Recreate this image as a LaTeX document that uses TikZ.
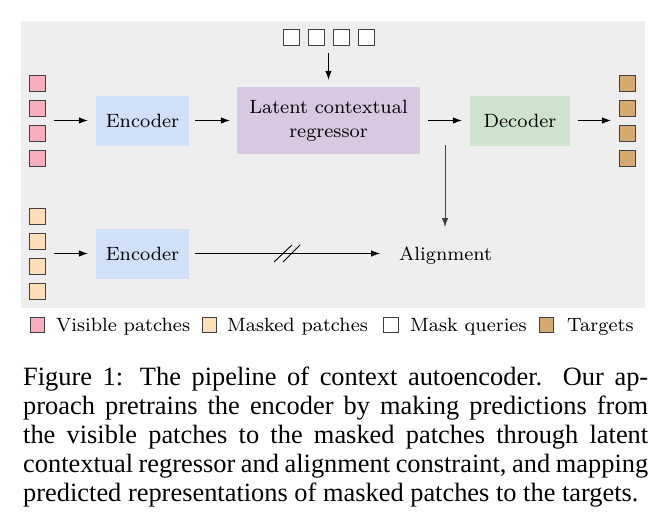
\documentclass[tikz,border=0pt]{standalone}
\usepackage{fontspec}
\newfontfamily\capfont{Liberation Serif}
\newfontfamily\dgmfont{lmroman8-regular}[Extension=.otf]
\usetikzlibrary{arrows.meta,fit}
\definecolor{bggray}{RGB}{238,238,238}
\definecolor{vispink}{RGB}{250,173,190}
\definecolor{maskpeach}{RGB}{253,222,184}
\definecolor{targettan}{RGB}{214,169,112}
\definecolor{encblue}{RGB}{208,224,248}
\definecolor{latpurple}{RGB}{217,200,226}
\definecolor{decgreen}{RGB}{205,227,205}
\begin{document}
\begin{tikzpicture}[x=1pt,y=-1pt,
  font=\dgmfont\fontsize{19.2}{24}\selectfont,
  arr/.style={-{Latex[length=9pt,width=6.5pt]}, line width=0.8pt, black},
  patch/.style={draw=black!75, line width=0.8pt, minimum size=16pt, inner sep=0pt},
  legpatch/.style={draw=black!75, line width=0.8pt, minimum size=14.5pt, inner sep=0pt},
  blockbox/.style={inner sep=0pt, align=center},
  grp/.style={inner sep=0pt}]
\useasboundingbox (0,0) rectangle (664,530);
% background panel
\node[fill=bggray, minimum width=624pt, minimum height=287pt, inner sep=0pt, anchor=north west] (bg) at (21,21) {};

% visible patches
\node[patch, fill=vispink] (v1) at (37.5,83) {};
\node[patch, fill=vispink] (v2) at (37.5,108) {};
\node[patch, fill=vispink] (v3) at (37.5,133) {};
\node[patch, fill=vispink] (v4) at (37.5,158) {};
\node[grp, fit=(v1)(v4)] (vis) {};

% masked patches
\node[patch, fill=maskpeach] (m1) at (37.5,216) {};
\node[patch, fill=maskpeach] (m2) at (37.5,241) {};
\node[patch, fill=maskpeach] (m3) at (37.5,266) {};
\node[patch, fill=maskpeach] (m4) at (37.5,291) {};
\node[grp, fit=(m1)(m4)] (msk) {};

% mask queries
\node[patch, fill=white] (q1) at (291,37) {};
\node[patch, fill=white] (q2) at (316,37) {};
\node[patch, fill=white] (q3) at (341,37) {};
\node[patch, fill=white] (q4) at (366,37) {};
\node[grp, fit=(q1)(q4)] (qs) {};

% targets
\node[patch, fill=targettan] (t1) at (627.5,83) {};
\node[patch, fill=targettan] (t2) at (627.5,108) {};
\node[patch, fill=targettan] (t3) at (627.5,133) {};
\node[patch, fill=targettan] (t4) at (627.5,158) {};
\node[grp, fit=(t1)(t4)] (tg) {};

% blocks
\node[blockbox, fill=encblue, minimum width=93pt, minimum height=50pt] (enc1) at (142.5,120.5) {Encoder};
\node[blockbox, fill=latpurple, minimum width=183pt, minimum height=67pt] (lat) at (328.5,120.5) {Latent contextual\\regressor};
\node[blockbox, fill=decgreen, minimum width=100pt, minimum height=50pt] (dec) at (520,120.5) {Decoder};
\node[blockbox, fill=encblue, minimum width=93pt, minimum height=50pt] (enc2) at (142.5,253.5) {Encoder};
\node[inner sep=0pt, anchor=base west] (aln) at (399,260) {Alignment};

% connectors
\draw[arr, shorten <=8pt, shorten >=8pt] (vis) -- (enc1);
\draw[arr, shorten <=6pt, shorten >=7pt] (enc1) -- (lat);
\draw[arr, shorten <=8pt, shorten >=8pt] (lat) -- (dec);
\draw[arr, shorten <=8pt, shorten >=8pt] (dec) -- (tg);
\draw[arr, shorten <=7pt, shorten >=7pt] (qs) -- (lat);
\draw[arr, shorten <=8pt, shorten >=8pt] (msk) -- (enc2);
\coordinate (ls) at (445,145);
\draw[arr, black!75, line width=1pt] (ls) -- ([yshift=19pt]ls |- aln.north);
\draw[arr, shorten <=6pt, shorten >=19pt] (enc2.east) -- (enc2.east -| aln.west);
% stop-gradient slashes
\coordinate (sl) at (287,253.5);
\draw[line width=0.9pt] (sl) ++(-13,8.5) -- ++(18,-17);
\draw[line width=0.9pt] (sl) ++(-4,8.5) -- ++(17,-17);

% legend
\node[legpatch, fill=vispink] (lg1) at (37.5,325) {};
\node[inner sep=0pt, anchor=base west] (lt1) at (56,331) {Visible patches};
\node[legpatch, fill=maskpeach] (lg2) at (209.5,325) {};
\node[inner sep=0pt, anchor=base west] (lt2) at (227,331) {Masked patches};
\node[legpatch, fill=white] (lg3) at (391,325) {};
\node[inner sep=0pt, anchor=base west] (lt3) at (410,331) {Mask queries};
\node[legpatch, fill=targettan] (lg4) at (546.5,325) {};
\node[inner sep=0pt, anchor=base west] (lt4) at (567,331) {Targets};

% caption
\node[inner sep=0pt, anchor=base west, text width=625pt, align=justify,
      font=\capfont\fontsize{26.4}{29.2}\selectfont] (cap) at (23,385)
 {\tolerance=10000 \hbadness=10000 Figure 1: The pipeline of context autoencoder. Our ap-\linebreak
  proach pretrains the encoder by making predictions from\linebreak
  the visible patches to the masked patches through latent\linebreak
  contextual regressor and alignment constraint, and mapping\linebreak
  predicted representations of masked patches to the targets.};
\end{tikzpicture}
\end{document}
